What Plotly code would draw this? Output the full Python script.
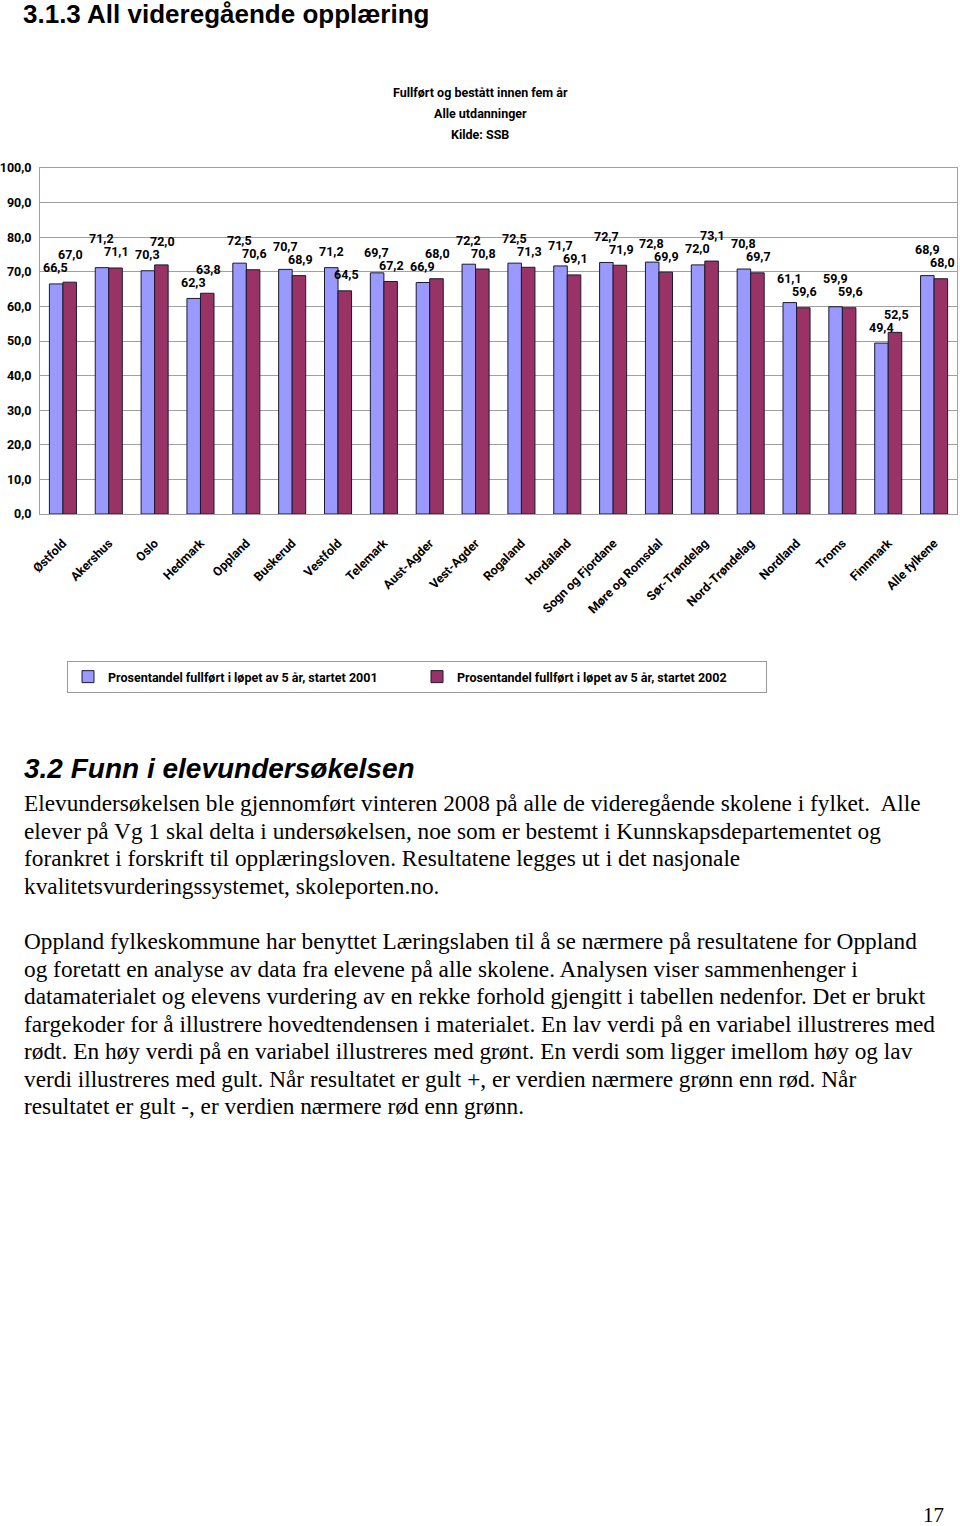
import plotly.graph_objects as go

categories = ["Østfold", "Akershus", "Oslo", "Hedmark", "Oppland", "Buskerud", "Vestfold",
              "Telemark", "Aust-Agder", "Vest-Agder", "Rogaland", "Hordaland",
              "Sogn og Fjordane", "Møre og Romsdal", "Sør-Trøndelag", "Nord-Trøndelag",
              "Nordland", "Troms", "Finnmark", "Alle fylkene"]
started_2001 = [66.5, 71.2, 70.3, 62.3, 72.5, 70.7, 71.2, 69.7, 66.9, 72.2, 72.5, 71.7,
                72.7, 72.8, 72.0, 70.8, 61.1, 59.9, 49.4, 68.9]
started_2002 = [67.0, 71.1, 72.0, 63.8, 70.6, 68.9, 64.5, 67.2, 68.0, 70.8, 71.3, 69.1,
                71.9, 69.9, 73.1, 69.7, 59.6, 59.6, 52.5, 68.0]
series_names = ["Prosentandel fullført i løpet av 5 år, startet 2001",
                "Prosentandel fullført i løpet av 5 år, startet 2002"]
chart_title = ["Fullført og bestått innen fem år", "Alle utdanninger", "Kilde: SSB"]

page_title = "3.1.3 All videregående opplæring"
heading = "3.2 Funn i elevundersøkelsen"
para1 = ["Elevundersøkelsen ble gjennomført vinteren 2008 på alle de videregående skolene i fylket.  Alle",
         "elever på Vg 1 skal delta i undersøkelsen, noe som er bestemt i Kunnskapsdepartementet og",
         "forankret i forskrift til opplæringsloven. Resultatene legges ut i det nasjonale",
         "kvalitetsvurderingssystemet, skoleporten.no."]
para2 = ["Oppland fylkeskommune har benyttet Læringslaben til å se nærmere på resultatene for Oppland",
         "og foretatt en analyse av data fra elevene på alle skolene. Analysen viser sammenhenger i",
         "datamaterialet og elevens vurdering av en rekke forhold gjengitt i tabellen nedenfor. Det er brukt",
         "fargekoder for å illustrere hovedtendensen i materialet. En lav verdi på en variabel illustreres med",
         "rødt. En høy verdi på en variabel illustreres med grønt. En verdi som ligger imellom høy og lav",
         "verdi illustreres med gult. Når resultatet er gult +, er verdien nærmere grønn enn rød. Når",
         "resultatet er gult -, er verdien nærmere rød enn grønn."]
page_number = "17"

W, H = 960, 1526
L, R, T = 40, 3, 168
B = H - 514
PW, PH = W - L - R, H - T - B
NARROW = "Roboto, Liberation Sans Narrow, DejaVu Sans Condensed, sans-serif"
SERIF = "Liberation Serif, Times New Roman, serif"
SANS = "Liberation Sans, Arial, sans-serif"


def px(x):
    return (x - L) / PW


def py(y):
    return (T + PH - y) / PH


fig = go.Figure()
colors = ["#9999FF", "#993366"]
for name, vals, c in zip(series_names, [started_2001, started_2002], colors):
    fig.add_trace(go.Bar(x=categories, y=vals, name=name, marker_color=c,
                         marker_line=dict(color="#1a1a2e", width=1), hoverinfo="skip"))

annotations = []
ypx_per_unit = PH / 100.0
for i, cat in enumerate(categories):
    v1, v2 = started_2001[i], started_2002[i]
    s1, s2 = 16, 16
    gap = (v1 - v2) * ypx_per_unit
    if abs(gap) < 13:
        if v1 >= v2:
            s1 = 16 + (13 - abs(gap))
        else:
            s2 = 16 + (13 - abs(gap))
    for v, xs, ys in [(v1, -7, s1), (v2, 8, s2)]:
        annotations.append(dict(x=cat, y=v, xref="x", yref="y", text=f"{v:.1f}".replace(".", ","),
                                showarrow=False, xshift=xs, yshift=ys,
                                font=dict(family=NARROW, size=12.5, color="black", weight="bold")))

for k, t in enumerate(chart_title):
    annotations.append(dict(x=px(480), y=py(93 + 21 * k), xref="paper", yref="paper", text=t,
                            showarrow=False, xanchor="center", yanchor="middle",
                            font=dict(family=NARROW, size=12.5, color="black", weight="bold")))

annotations.append(dict(x=px(22), y=py(14.5), xref="paper", yref="paper", text="<b>%s</b>" % page_title,
                        showarrow=False, xanchor="left", yanchor="middle", borderpad=0,
                        font=dict(family=SANS, size=26, color="black")))
annotations.append(dict(x=px(22), y=py(768), xref="paper", yref="paper", text="<b><i>%s</i></b>" % heading,
                        showarrow=False, xanchor="left", yanchor="middle",
                        font=dict(family=SANS, size=28, color="black")))
for k, line in enumerate(para1):
    annotations.append(dict(x=px(22), y=py(803 + 27.6 * k), xref="paper", yref="paper", text=line,
                            showarrow=False, xanchor="left", yanchor="middle",
                            font=dict(family=SERIF, size=23.3, color="black")))
for k, line in enumerate(para2):
    annotations.append(dict(x=px(22), y=py(941 + 27.5 * k), xref="paper", yref="paper", text=line,
                            showarrow=False, xanchor="left", yanchor="middle",
                            font=dict(family=SERIF, size=23.3, color="black")))
annotations.append(dict(x=px(946), y=py(1515), xref="paper", yref="paper", text=page_number,
                        showarrow=False, xanchor="right", yanchor="middle",
                        font=dict(family=SERIF, size=21, color="black")))

fig.update_layout(
    width=W, height=H, margin=dict(l=L, r=R, t=T, b=B, autoexpand=False),
    paper_bgcolor="white", plot_bgcolor="white",
    separators=", ",
    barmode="group", bargap=0.41, bargroupgap=0,
    showlegend=True,
    legend=dict(orientation="h", x=px(67), y=py(661), xanchor="left", yanchor="top",
                bordercolor="#9a9a9a", borderwidth=1, entrywidth=304, entrywidthmode="pixels",
                font=dict(family=NARROW, size=12.5, color="black", weight="bold"), itemwidth=30),
    annotations=annotations,
    font=dict(family=NARROW, size=12.5, color="black"),
)
fig.update_yaxes(range=[0, 100], dtick=10, tickformat=".1f", showgrid=True, gridcolor="#a0a0a0",
                 gridwidth=1, showline=True, linecolor="#a0a0a0", mirror=True, ticks="",
                 ticklabelstandoff=5,
                 tickfont=dict(family=NARROW, size=12.5, color="black", weight="bold"), zeroline=False)
fig.update_xaxes(tickangle=-45, showline=True, linecolor="#a0a0a0", mirror=True, ticks="",
                 ticklabelstandoff=16,
                 tickfont=dict(family=NARROW, size=12.5, color="black", weight="bold"))

fig.write_html("out.html", config={"displayModeBar": False},
               post_script="document.body.style.margin='0';document.body.style.padding='0';")
